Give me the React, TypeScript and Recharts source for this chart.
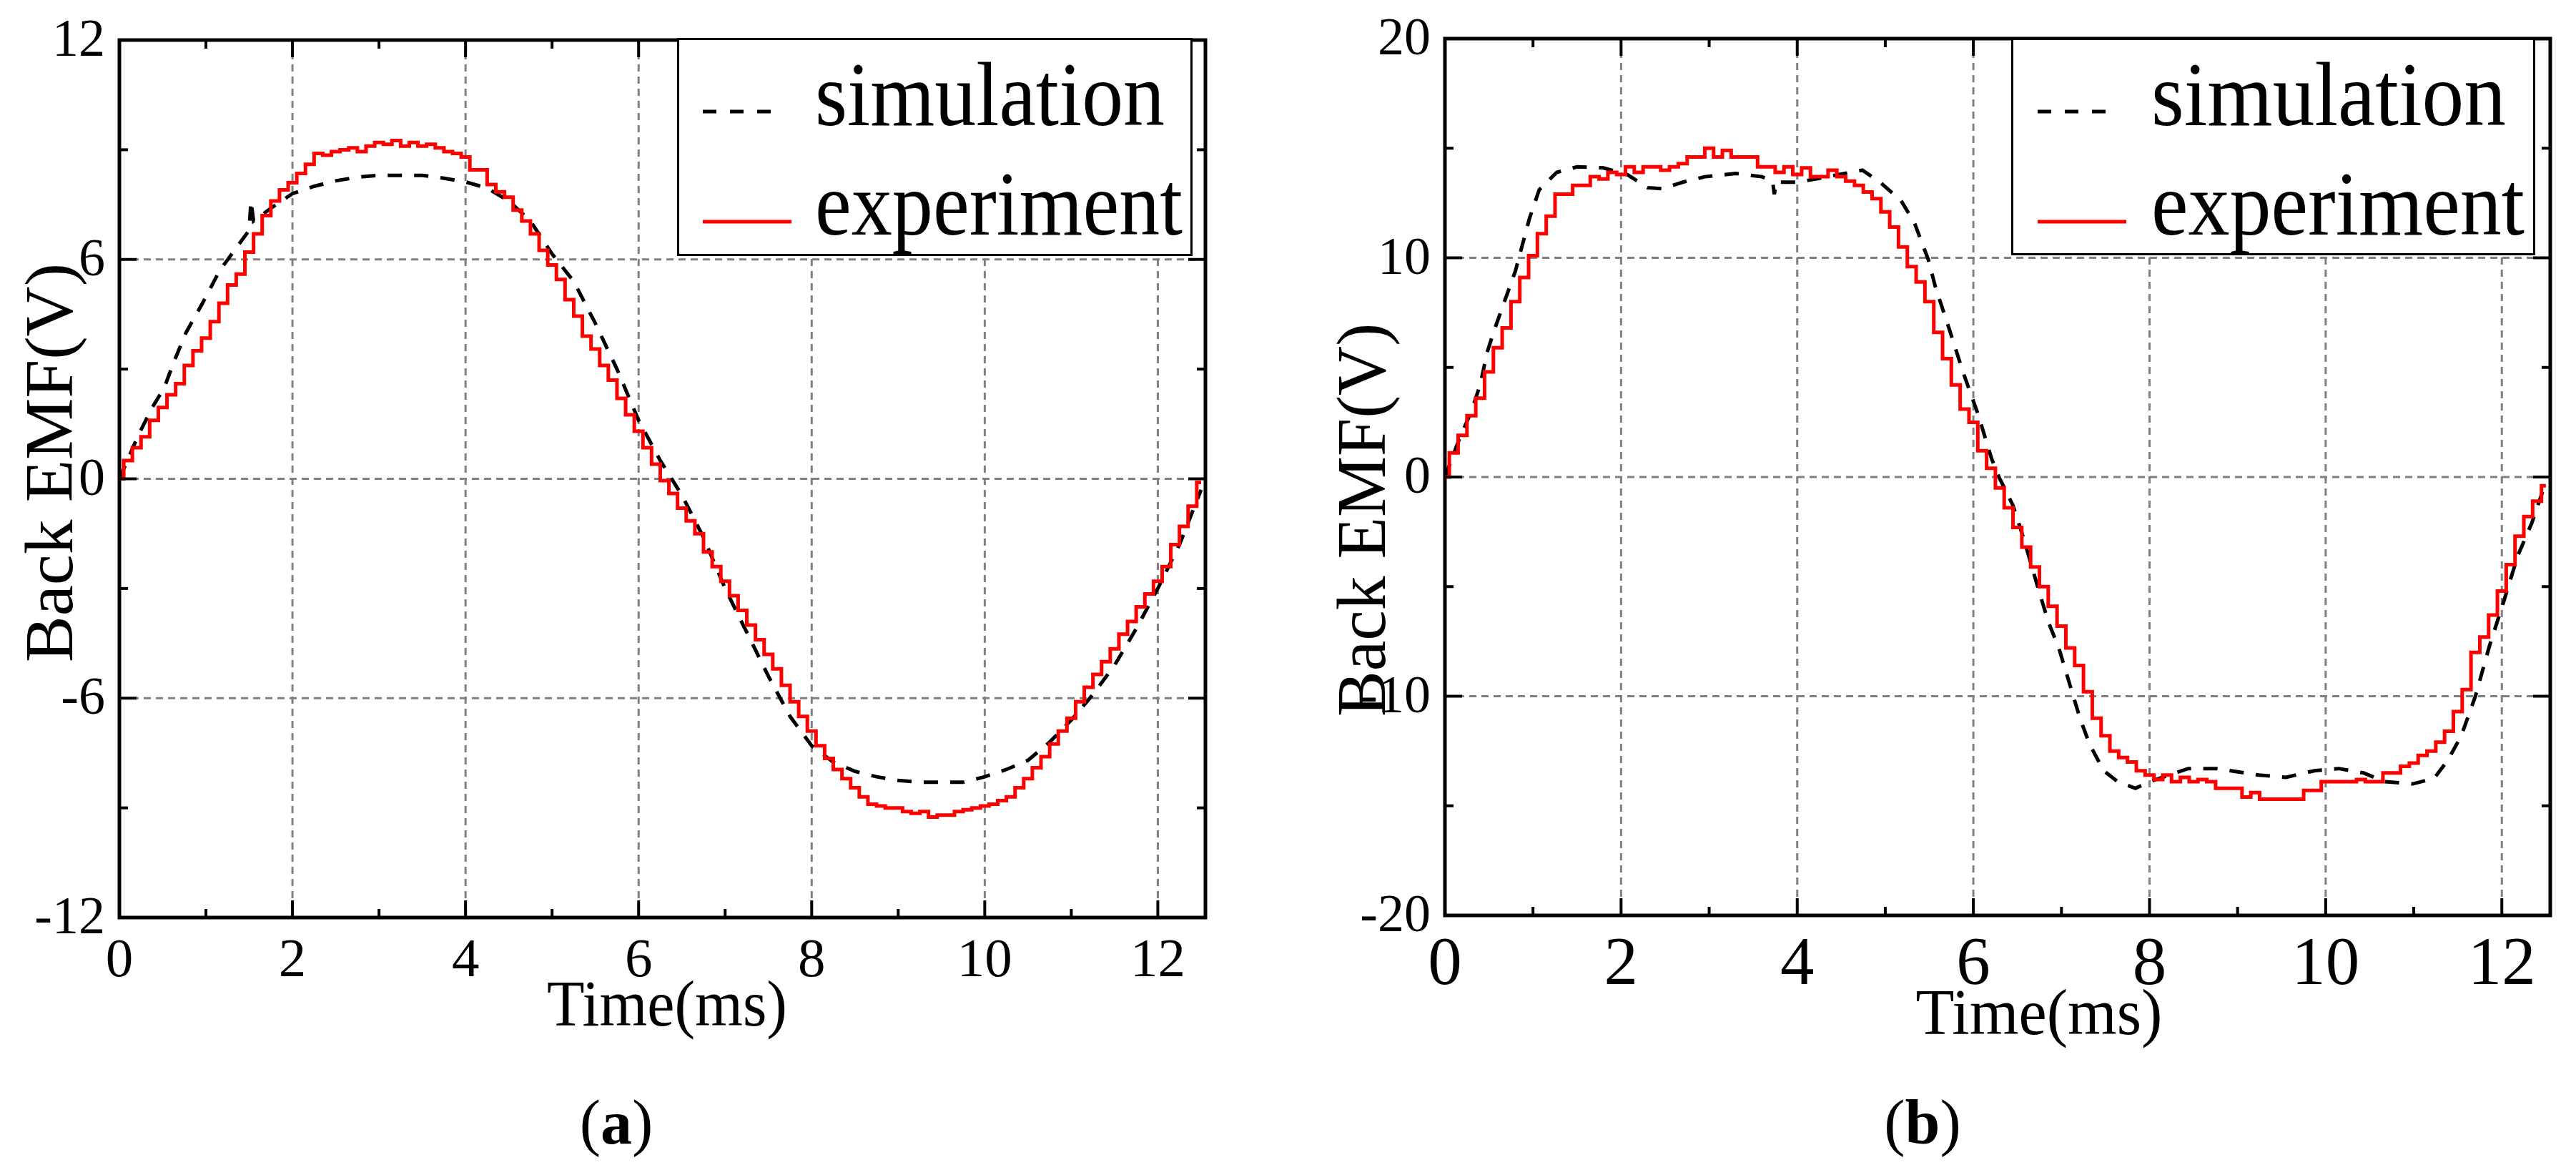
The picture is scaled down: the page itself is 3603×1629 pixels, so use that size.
import { CartesianGrid, Legend, Line, LineChart, ReferenceArea, XAxis, YAxis } from "recharts";

const FONT = "'Liberation Serif', 'Times New Roman', serif";

// [time in ms, back EMF in V]
const simulationA: [number, number][] = [
  [0, 0], [0.22, 1.2], [0.38, 1.95], [0.52, 2.5], [0.63, 3.2], [0.77, 4.0], [0.96, 4.8], [1.16, 5.7],
  [1.33, 6.25], [1.5, 6.8], [1.52, 7.6], [1.55, 7.05], [1.75, 7.4], [2.0, 7.8], [2.25, 8.0], [2.5, 8.15],
  [2.75, 8.25], [3.0, 8.3], [3.25, 8.3], [3.5, 8.3], [3.75, 8.22], [4.0, 8.12], [4.25, 7.95], [4.5, 7.6],
  [4.75, 7.05], [5.0, 6.15], [5.25, 5.4], [5.5, 4.25], [5.75, 3.0], [6.0, 1.6], [6.25, 0.5], [6.5, -0.45],
  [6.75, -1.6], [7.0, -3.0], [7.25, -4.2], [7.5, -5.4], [7.75, -6.5], [8.0, -7.3], [8.25, -7.75], [8.5, -8.0],
  [8.75, -8.15], [9.0, -8.25], [9.25, -8.3], [9.5, -8.3], [9.75, -8.3], [10.0, -8.15], [10.25, -7.95],
  [10.5, -7.7], [10.75, -7.2], [11.0, -6.6], [11.25, -5.9], [11.5, -5.1], [11.75, -4.1], [12.0, -3.0],
  [12.25, -1.8], [12.5, -0.3],
];

const experimentA: [number, number][] = [
  [0, 0], [0.1, 0.5], [0.2, 0.85], [0.3, 1.15], [0.4, 1.6], [0.5, 1.95], [0.6, 2.3], [0.7, 2.6], [0.8, 3.1],
  [0.9, 3.5], [1.0, 3.85], [1.1, 4.3], [1.2, 4.8], [1.3, 5.3], [1.4, 5.6], [1.5, 6.2], [1.6, 6.7], [1.7, 7.2],
  [1.8, 7.6], [1.9, 7.9], [2.0, 8.1], [2.1, 8.35], [2.2, 8.6], [2.3, 8.9], [2.4, 8.85], [2.5, 8.95], [2.6, 9.0],
  [2.7, 9.05], [2.8, 8.95], [2.9, 9.1], [3.0, 9.2], [3.1, 9.15], [3.2, 9.25], [3.3, 9.1], [3.4, 9.2], [3.5, 9.1],
  [3.6, 9.15], [3.7, 9.05], [3.8, 8.95], [3.9, 8.9], [4.0, 8.8], [4.1, 8.45], [4.2, 8.45], [4.3, 8.05],
  [4.4, 7.85], [4.5, 7.7], [4.6, 7.35], [4.7, 7.05], [4.8, 6.7], [4.9, 6.25], [5.0, 5.85], [5.1, 5.45],
  [5.2, 4.9], [5.3, 4.45], [5.4, 3.9], [5.5, 3.55], [5.6, 3.1], [5.7, 2.7], [5.8, 2.2], [5.9, 1.75], [6.0, 1.3],
  [6.1, 0.85], [6.2, 0.4], [6.3, -0.05], [6.4, -0.4], [6.5, -0.8], [6.6, -1.15], [6.7, -1.5], [6.8, -2.0],
  [6.9, -2.4], [7.0, -2.8], [7.1, -3.2], [7.2, -3.6], [7.3, -4.0], [7.4, -4.4], [7.5, -4.8], [7.6, -5.2],
  [7.7, -5.65], [7.8, -6.1], [7.9, -6.5], [8.0, -6.9], [8.1, -7.3], [8.2, -7.65], [8.3, -7.95], [8.4, -8.2],
  [8.5, -8.45], [8.6, -8.7], [8.7, -8.9], [8.8, -8.95], [8.9, -9.0], [9.0, -9.0], [9.1, -9.1], [9.2, -9.15],
  [9.3, -9.1], [9.4, -9.25], [9.5, -9.2], [9.6, -9.2], [9.7, -9.1], [9.8, -9.05], [9.9, -9.0], [10.0, -8.95],
  [10.1, -8.9], [10.2, -8.8], [10.3, -8.7], [10.4, -8.45], [10.5, -8.2], [10.6, -7.9], [10.7, -7.6],
  [10.8, -7.25], [10.9, -6.9], [11.0, -6.55], [11.1, -6.1], [11.2, -5.7], [11.3, -5.35], [11.4, -5.0],
  [11.5, -4.65], [11.6, -4.25], [11.7, -3.9], [11.8, -3.5], [11.9, -3.15], [12.0, -2.8], [12.1, -2.4],
  [12.2, -1.8], [12.3, -1.3], [12.4, -0.75], [12.5, -0.1],
];

const simulationB: [number, number][] = [
  [0, 0], [0.15, 1.6], [0.3, 3.0], [0.4, 4.2], [0.48, 5.7], [0.56, 6.7], [0.64, 7.6], [0.8, 9.4], [0.88, 10.6],
  [0.96, 11.8], [1.07, 13.1], [1.27, 13.9], [1.5, 14.15], [1.8, 14.1], [2.07, 13.8], [2.3, 13.2], [2.47, 13.15],
  [2.7, 13.45], [2.95, 13.7], [3.3, 13.85], [3.6, 13.7], [3.72, 13.5], [3.74, 12.9], [3.76, 13.45], [4.0, 13.45],
  [4.22, 13.6], [4.54, 13.85], [4.74, 14.0], [4.94, 13.45], [5.18, 12.6], [5.33, 11.6], [5.49, 9.9],
  [5.57, 8.65], [5.73, 6.7], [5.89, 4.7], [6.05, 2.9], [6.21, 0.8], [6.29, 0], [6.45, -1.3], [6.57, -2.8],
  [6.73, -5.0], [6.85, -6.6], [6.97, -7.8], [7.09, -9.4], [7.21, -11.0], [7.32, -12.2], [7.48, -13.4],
  [7.64, -13.9], [7.84, -14.2], [8.0, -13.9], [8.44, -13.3], [8.76, -13.3], [9.24, -13.6], [9.55, -13.7],
  [9.87, -13.4], [10.15, -13.3], [10.43, -13.5], [10.67, -13.9], [10.99, -14.0], [11.23, -13.75],
  [11.39, -12.9], [11.54, -11.8], [11.7, -10.0], [11.86, -7.7], [12.02, -5.7], [12.18, -3.6], [12.34, -2.1],
  [12.46, -0.7], [12.5, -0.4],
];

const experimentB: [number, number][] = [
  [0, 0], [0.1, 1.1], [0.2, 1.9], [0.3, 2.8], [0.4, 3.6], [0.5, 4.8], [0.6, 5.9], [0.7, 6.8], [0.8, 8.0],
  [0.9, 9.1], [1.0, 10.1], [1.1, 11.1], [1.2, 11.9], [1.3, 12.9], [1.4, 12.9], [1.5, 13.3], [1.6, 13.3],
  [1.7, 13.7], [1.8, 13.6], [1.9, 13.9], [2.0, 13.8], [2.1, 14.15], [2.2, 13.9], [2.3, 14.15], [2.4, 14.15],
  [2.5, 14.0], [2.6, 14.15], [2.7, 14.3], [2.8, 14.6], [2.9, 14.6], [3.0, 15.0], [3.1, 14.6], [3.2, 14.9],
  [3.3, 14.6], [3.4, 14.6], [3.5, 14.6], [3.6, 14.15], [3.7, 14.15], [3.8, 13.9], [3.9, 14.15], [4.0, 13.8],
  [4.1, 14.1], [4.2, 13.7], [4.3, 13.7], [4.4, 14.0], [4.5, 13.7], [4.6, 13.5], [4.7, 13.3], [4.8, 13.0],
  [4.9, 12.7], [5.0, 12.1], [5.1, 11.4], [5.2, 10.5], [5.3, 9.6], [5.4, 8.9], [5.5, 8.0], [5.6, 6.6],
  [5.7, 5.4], [5.8, 4.2], [5.9, 3.1], [6.0, 2.5], [6.1, 1.2], [6.2, 0.4], [6.3, -0.5], [6.4, -1.4],
  [6.5, -2.3], [6.6, -3.2], [6.7, -4.1], [6.8, -5.0], [6.9, -5.9], [7.0, -6.8], [7.1, -7.8], [7.2, -8.6],
  [7.3, -9.8], [7.4, -11.0], [7.5, -11.8], [7.6, -12.5], [7.7, -12.8], [7.8, -13.0], [7.9, -13.4],
  [8.0, -13.6], [8.1, -13.8], [8.2, -13.6], [8.3, -13.9], [8.4, -13.7], [8.5, -13.9], [8.6, -13.8],
  [8.7, -13.9], [8.8, -14.2], [8.9, -14.2], [9.0, -14.2], [9.1, -14.6], [9.2, -14.4], [9.3, -14.7],
  [9.4, -14.7], [9.5, -14.7], [9.6, -14.7], [9.7, -14.7], [9.8, -14.3], [9.9, -14.3], [10.0, -13.9],
  [10.1, -13.9], [10.2, -13.9], [10.3, -13.9], [10.4, -13.8], [10.5, -13.9], [10.6, -13.9], [10.7, -13.5],
  [10.8, -13.5], [10.9, -13.2], [11.0, -13.05], [11.1, -12.7], [11.2, -12.5], [11.3, -12.1], [11.4, -11.6],
  [11.5, -10.7], [11.6, -9.7], [11.7, -8.0], [11.8, -7.3], [11.9, -6.3], [12.0, -5.2], [12.1, -4.0],
  [12.2, -2.7], [12.3, -1.8], [12.4, -1.1], [12.5, -0.4],
];

const timeDomain: [number, number] = [0, 12.55];
const timeTicks = [0, 1, 2, 3, 4, 5, 6, 7, 8, 9, 10, 11, 12];
const timeLabels = [0, 2, 4, 6, 8, 10, 12];
const timeGrid = [2, 4, 6, 8, 10, 12];

const voltDomainA: [number, number] = [-12, 12];
const voltTicksA = [-12, -9, -6, -3, 0, 3, 6, 9, 12];
const voltLabelsA = [-12, -6, 0, 6, 12];
const voltGridA = [-6, 0, 6];

const voltDomainB: [number, number] = [-20, 20];
const voltTicksB = [-20, -15, -10, -5, 0, 5, 10, 15, 20];
const voltLabelsB = [-20, -10, 0, 10, 20];
const voltGridB = [-10, 0, 10];

const seriesNames = ["simulation", "experiment"];

const toPoints = (pairs: [number, number][]) => pairs.map(([t, v]) => ({ t, v }));

const X_AXIS_H = 120;
const Y_AXIS_W = 60;

function makeXTick(plotH: number, labels: number[], fontSize: number, dy: number) {
  return (props: any) => {
    const { x, y, payload } = props;
    const major = labels.includes(payload.value);
    const len = major ? 24 : 12;
    return (
      <g>
        <line x1={x} x2={x} y1={y} y2={y - len} stroke="#000" strokeWidth={4} />
        <line x1={x} x2={x} y1={y - plotH} y2={y - plotH + len} stroke="#000" strokeWidth={4} />
        {major && (
          <text x={x} y={y + dy} textAnchor="middle" fontSize={fontSize} fontFamily={FONT} fill="#000">
            {payload.value}
          </text>
        )}
      </g>
    );
  };
}

function makeYTick(plotW: number, labels: number[], fontSize: number) {
  return (props: any) => {
    const { x, y, payload } = props;
    const major = labels.includes(payload.value);
    const len = major ? 24 : 12;
    return (
      <g>
        <line x1={x} x2={x + len} y1={y} y2={y} stroke="#000" strokeWidth={4} />
        <line x1={x + plotW} x2={x + plotW - len} y1={y} y2={y} stroke="#000" strokeWidth={4} />
        {major && (
          <text x={x - 20} y={y + 22} textAnchor="end" fontSize={fontSize} fontFamily={FONT} fill="#000">
            {payload.value}
          </text>
        )}
      </g>
    );
  };
}

function BottomTitles(props: any) {
  const { cx, baseline, size, len, tag, tagX } = props;
  return (
    <g fontFamily={FONT} fill="#000">
      <text x={cx} y={baseline} textAnchor="middle" fontSize={size} textLength={len} lengthAdjust="spacingAndGlyphs">
        Time(ms)
      </text>
      <text x={tagX} y={1599} textAnchor="middle" fontSize={88}>
        (<tspan fontWeight="bold">{tag}</tspan>)
      </text>
    </g>
  );
}

function SideTitle(props: any) {
  const { bx, cy, size, len } = props;
  return (
    <text
      x={bx}
      y={cy}
      transform={`rotate(-90, ${bx}, ${cy})`}
      textAnchor="middle"
      fontSize={size}
      fontFamily={FONT}
      fill="#000"
      textLength={len}
      lengthAdjust="spacingAndGlyphs"
    >
      Back EMF(V)
    </text>
  );
}

function makeLegend(box: any) {
  return (props: any) => {
    const items = [...(props.payload ?? [])].sort(
      (a: any, b: any) => seriesNames.indexOf(a.value) - seriesNames.indexOf(b.value),
    );
    const rows = [103, 257];
    const baselines = [122, 275];
    const sampleLens = [box.dashLen, box.solidLen];
    return (
      <svg width={box.width} height={box.height} style={{ display: "block", overflow: "visible" }}>
        <rect x={1.5} y={1.5} width={box.width - 3} height={box.height - 3} fill="#fff" stroke="#000" strokeWidth={3} />
        {items.map((item: any, i: number) => (
          <g key={item.value}>
            <line
              x1={box.sampleX}
              x2={box.sampleX + sampleLens[i]}
              y1={rows[i]}
              y2={rows[i]}
              stroke={item.color}
              strokeWidth={5}
              strokeDasharray={item.value === seriesNames[0] ? "19 19" : undefined}
            />
            <text
              x={box.textX}
              y={baselines[i]}
              fontSize={127}
              fontFamily={FONT}
              fill="#000"
              textLength={box.textLens[i]}
              lengthAdjust="spacingAndGlyphs"
            >
              {item.value}
            </text>
          </g>
        ))}
      </svg>
    );
  };
}

function Panel(props: any) {
  const { left, width, height, margin, yDomain, yTicks, yLabels, yGrid, simulation, experiment, xFont, xDy, titles, legend } = props;
  const plotW = width - margin.left - margin.right - Y_AXIS_W;
  const plotH = height - margin.top - margin.bottom - X_AXIS_H;
  return (
    <div style={{ position: "absolute", left, top: 0, width, height }}>
      <LineChart width={width} height={height} margin={margin}>
        <CartesianGrid
          stroke="#808080"
          strokeWidth={3}
          strokeDasharray="10 7"
          verticalValues={timeGrid}
          horizontalValues={yGrid}
        />
        <XAxis
          type="number"
          dataKey="t"
          domain={timeDomain}
          allowDataOverflow
          ticks={timeTicks}
          interval={0}
          height={X_AXIS_H}
          axisLine={false}
          tickLine={false}
          tickSize={0}
          tickMargin={0}
          tick={makeXTick(plotH, timeLabels, xFont, xDy)}
          label={<BottomTitles {...titles.bottom} />}
        />
        <YAxis
          type="number"
          dataKey="v"
          domain={yDomain}
          allowDataOverflow
          ticks={yTicks}
          interval={0}
          width={Y_AXIS_W}
          axisLine={false}
          tickLine={false}
          tickSize={0}
          tickMargin={0}
          tick={makeYTick(plotW, yLabels, 74)}
          label={<SideTitle {...titles.side} />}
        />
        <ReferenceArea
          x1={timeDomain[0]}
          x2={timeDomain[1]}
          y1={yDomain[0]}
          y2={yDomain[1]}
          fill="none"
          fillOpacity={0}
          stroke="#000"
          strokeWidth={5}
          ifOverflow="visible"
        />
        <Line
          data={toPoints(simulation)}
          dataKey="v"
          name={seriesNames[0]}
          type="linear"
          stroke="#000000"
          strokeWidth={5}
          strokeDasharray="20 17"
          dot={false}
          activeDot={false}
          isAnimationActive={false}
        />
        <Line
          data={toPoints(experiment)}
          dataKey="v"
          name={seriesNames[1]}
          type="step"
          stroke="#ff0000"
          strokeWidth={5}
          dot={false}
          activeDot={false}
          isAnimationActive={false}
        />
        <Legend
          layout="horizontal"
          verticalAlign="middle"
          align="center"
          width={legend.width}
          height={legend.height}
          wrapperStyle={{ left: legend.left, top: legend.top, width: legend.width, height: legend.height }}
          content={makeLegend(legend)}
        />
      </LineChart>
    </div>
  );
}

export default function App() {
  return (
    <div style={{ position: "absolute", left: 0, top: 0, width: 3603, height: 1629, background: "#fff" }}>
      <Panel
        left={0}
        width={1780}
        height={1629}
        margin={{ top: 56, right: 94, bottom: 346 - X_AXIS_H, left: 167 - Y_AXIS_W }}
        yDomain={voltDomainA}
        yTicks={voltTicksA}
        yLabels={voltLabelsA}
        yGrid={voltGridA}
        simulation={simulationA}
        experiment={experimentA}
        xFont={77}
        xDy={82}
        titles={{
          bottom: { cx: 933, baseline: 1434, size: 92, len: 336, tag: "a", tagX: 862 },
          side: { bx: 101, cy: 647, size: 95, len: 558 },
        }}
        legend={{ left: 947, top: 53, width: 721, height: 305, sampleX: 36, dashLen: 97, solidLen: 124, textX: 193, textLens: [489, 514] }}
      />
      <Panel
        left={1800}
        width={1803}
        height={1629}
        margin={{ top: 54, right: 36, bottom: 349 - X_AXIS_H, left: 221 - Y_AXIS_W }}
        yDomain={voltDomainB}
        yTicks={voltTicksB}
        yLabels={voltLabelsB}
        yGrid={voltGridB}
        simulation={simulationB}
        experiment={experimentB}
        xFont={95}
        xDy={96}
        titles={{
          bottom: { cx: 1052, baseline: 1446, size: 90, len: 345, tag: "b", tagX: 889 },
          side: { bx: 137, cy: 727, size: 97, len: 550 },
        }}
        legend={{ left: 1013, top: 53, width: 733, height: 304, sampleX: 37, dashLen: 95, solidLen: 124, textX: 196, textLens: [496, 522] }}
      />
    </div>
  );
}
